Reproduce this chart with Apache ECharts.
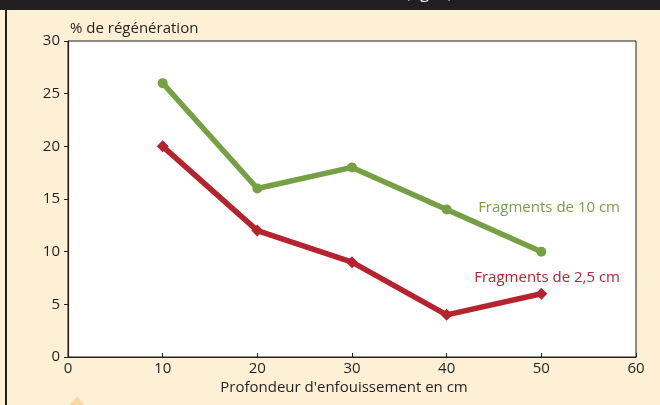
<!DOCTYPE html>
<html><head><meta charset="utf-8">
<script src="https://cdn.jsdelivr.net/npm/echarts@6/dist/echarts.min.js"></script>
<style>html,body{margin:0;padding:0;background:#FEF0D5;}#c{width:660px;height:405px;}</style>
</head><body><div id="c"></div>
<script>
const depths = [10, 20, 30, 40, 50];
const frag10 = [26, 16, 18, 14, 10];
const frag25 = [20, 12, 9, 4, 6];
const xTicks = [0, 10, 20, 30, 40, 50, 60];
const yTicks = [0, 5, 10, 15, 20, 25, 30];
const seriesNames = ['Fragments de 10 cm', 'Fragments de 2,5 cm'];
const font = '"Open Sans", sans-serif';
const green = '#76A044', red = '#B5232F', ink = '#231F20';

const chart = echarts.init(document.getElementById('c'), null, {renderer: 'canvas'});
chart.setOption({
  backgroundColor: '#FEF0D5',
  animation: false,
  grid: {left: 68, right: 24, top: 41, bottom: 48, show: true, backgroundColor: '#ffffff', borderColor: ink, borderWidth: 1},
  xAxis: {
    type: 'value', min: xTicks[0], max: xTicks[xTicks.length-1], interval: 10,
    axisLine: {show: true, lineStyle: {color: ink, width: 1.2}},
    axisTick: {show: true, inside: true, length: 4, lineStyle: {color: ink}},
    axisLabel: {color: ink, fontFamily: font, fontSize: 15, margin: 4},
    splitLine: {show: false}
  },
  yAxis: {
    type: 'value', min: yTicks[0], max: yTicks[yTicks.length-1], interval: 5,
    axisLine: {show: true, lineStyle: {color: ink, width: 1.2}},
    axisTick: {show: true, length: 4, lineStyle: {color: ink}},
    axisLabel: {color: ink, fontFamily: font, fontSize: 15, margin: 8},
    splitLine: {show: false}
  },
  series: [
    {name: seriesNames[0], type: 'line', data: depths.map((d,i)=>[d, frag10[i]]),
     symbol: 'circle', symbolSize: 10, lineStyle: {color: green, width: 5.5}, itemStyle: {color: green}},
    {name: seriesNames[1], type: 'line', data: depths.map((d,i)=>[d, frag25[i]]),
     symbol: 'diamond', symbolSize: 12, lineStyle: {color: red, width: 5.5}, itemStyle: {color: red}}
  ],
  graphic: [
    {type: 'rect', shape: {x: 0, y: 0, width: 660, height: 10}, style: {fill: ink}},
    {type: 'text', left: 405, top: -15, style: {text: '(fig. 2)', fill: '#ffffff', font: '17px ' + font}},
    {type: 'rect', shape: {x: 5, y: 10, width: 2, height: 395}, style: {fill: ink}},
    {type: 'polygon', shape: {points: [[77, 396], [70, 405], [84, 405]]}, style: {fill: '#FAD8A6'}},
    {type: 'text', left: 70, top: 21, style: {text: '% de régénération', fill: ink, font: '15px ' + font}},
    {type: 'text', x: 344, y: 388, style: {text: "Profondeur d'enfouissement en cm", fill: ink, font: '15px ' + font, align: 'center', verticalAlign: 'middle'}},
    {type: 'text', right: 40, top: 200, style: {text: seriesNames[0], fill: green, font: '15px ' + font}},
    {type: 'text', right: 40, top: 270, style: {text: seriesNames[1], fill: red, font: '15px ' + font}}
  ]
});
</script></body></html>
